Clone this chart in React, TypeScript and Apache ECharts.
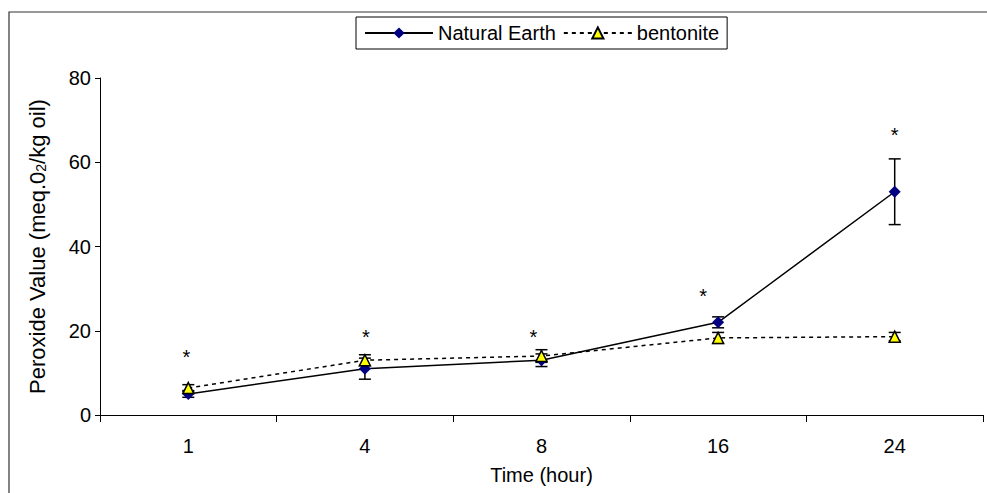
import React, { useEffect, useRef } from "react";
import * as echarts from "echarts";

const categories = ["1", "4", "8", "16", "24"];
const naturalEarth = [5, 11, 13, 22, 53];
const naturalEarthErr = [0.8, 2.5, 1.5, 1.3, 7.8];
const bentonite = [6.4, 13, 14, 18.3, 18.6];
const bentoniteErr = [0.8, 1.3, 1.5, 1.3, 1];
const starValues = [14.8, 19.5, 19.5, 29.2, 67.4];
const starShift = [-2, 1, -8, -15, 0];
const yTicks = { min: 0, max: 80, interval: 20 };

const FONT = "Liberation Sans, Arial, sans-serif";

export default function App() {
  const ref = useRef<HTMLDivElement>(null);
  useEffect(() => {
    document.body.style.margin = "0";
    const chart = echarts.init(ref.current!, null, { renderer: "svg" });
    const errData = (vals: number[], errs: number[]) =>
      vals.map((v, i) => [i, v - errs[i], v + errs[i]]);
    const errRender = (params: any, api: any) => {
      const x = api.value(0);
      const lo = api.coord([x, api.value(1)]);
      const hi = api.coord([x, api.value(2)]);
      const hw = 6;
      const style = { stroke: "#000", lineWidth: 1.5 };
      return {
        type: "group",
        children: [
          { type: "line", shape: { x1: lo[0], y1: lo[1], x2: hi[0], y2: hi[1] }, style },
          { type: "line", shape: { x1: lo[0] - hw, y1: lo[1], x2: lo[0] + hw, y2: lo[1] }, style },
          { type: "line", shape: { x1: hi[0] - hw, y1: hi[1], x2: hi[0] + hw, y2: hi[1] }, style },
        ],
      };
    };
    const starRender = (params: any, api: any) => {
      const i = params.dataIndex;
      const p = api.coord([api.value(0), api.value(1)]);
      return {
        type: "text",
        x: p[0] + starShift[i],
        y: p[1] + 4,
        style: {
          text: "*",
          fontSize: 20,
          fontFamily: FONT,
          fill: "#000",
          align: "center",
          verticalAlign: "middle",
        },
      };
    };
    chart.setOption({
      animation: false,
      textStyle: { fontFamily: FONT, color: "#000" },
      graphic: [
        {
          type: "rect",
          shape: { x: 9, y: 12, width: 1000, height: 500 },
          style: { fill: "none", stroke: "#333", lineWidth: 1.2 },
          silent: true,
        },
      ],
      legend: {
        data: ["Natural Earth", "bentonite"],
        left: 356,
        top: 17,
        padding: [6, 8, 6, 8],
        borderColor: "#000",
        borderWidth: 1,
        itemGap: 7,
        itemWidth: 68,
        itemHeight: 14,
        textStyle: { fontSize: 20, color: "#000", fontFamily: FONT },
      },
      grid: { left: 100, right: 4, top: 78, bottom: 78 },
      xAxis: {
        type: "category",
        data: categories,
        boundaryGap: true,
        name: "Time (hour)",
        nameLocation: "middle",
        nameGap: 50,
        nameTextStyle: { fontSize: 20, color: "#000", fontFamily: FONT },
        axisLine: { lineStyle: { color: "#000", width: 1 } },
        axisTick: { show: true, length: 7, lineStyle: { color: "#000" }, alignWithLabel: false },
        axisLabel: { fontSize: 20, color: "#000", margin: 21, fontFamily: FONT },
        splitLine: { show: false },
      },
      yAxis: {
        type: "value",
        min: yTicks.min,
        max: yTicks.max,
        interval: yTicks.interval,
        name: "Peroxide Value (meq.0{sub|2}/kg oil)",
        nameLocation: "middle",
        nameGap: 52,
        nameRotate: 90,
        nameTextStyle: {
          fontSize: 22,
          color: "#000",
          fontFamily: FONT,
          rich: { sub: { fontSize: 14, verticalAlign: "bottom", color: "#000", fontFamily: FONT } },
        },
        axisLine: { show: true, lineStyle: { color: "#000", width: 1 } },
        axisTick: { show: true, length: 5, lineStyle: { color: "#000" } },
        axisLabel: { fontSize: 20, color: "#000", margin: 9, fontFamily: FONT },
        splitLine: { show: false },
      },
      series: [
        {
          name: "Natural Earth",
          type: "line",
          data: naturalEarth,
          symbol: "diamond",
          symbolSize: 12,
          itemStyle: { color: "#000080" },
          lineStyle: { color: "#000", width: 1.5 },
          z: 3,
        },
        {
          name: "bentonite",
          type: "line",
          data: bentonite,
          symbol: "triangle",
          symbolSize: 11,
          itemStyle: { color: "#FFFF00", borderColor: "#000", borderWidth: 1.5 },
          lineStyle: { color: "#000", width: 1.5, type: [4, 4] },
          z: 4,
        },
        {
          type: "custom",
          renderItem: errRender,
          data: errData(naturalEarth, naturalEarthErr),
          z: 2,
        },
        {
          type: "custom",
          renderItem: errRender,
          data: errData(bentonite, bentoniteErr),
          z: 2,
        },
        {
          type: "custom",
          renderItem: starRender,
          data: starValues.map((v, i) => [i, v]),
          z: 5,
        },
      ],
    });
    return () => chart.dispose();
  }, []);
  return <div ref={ref} style={{ width: 987, height: 493 }} />;
}
